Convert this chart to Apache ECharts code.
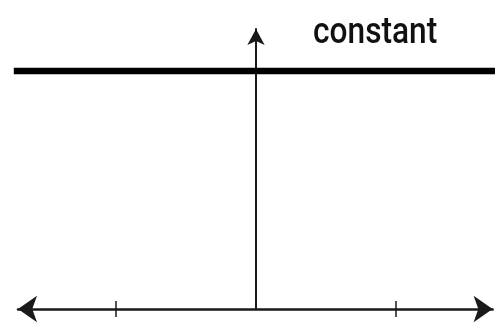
<!DOCTYPE html>
<html>
<head>
<meta charset="utf-8">
<script src="https://cdn.jsdelivr.net/npm/echarts@6/dist/echarts.min.js"></script>
<style>
  html, body { margin: 0; padding: 0; background: #fff; }
  #chart { width: 495px; height: 324px; }
</style>
</head>
<body>
<div id="chart"></div>
<script>
// A constant function y = c drawn over a number line
const lineLabel = 'constant';
const constX = [-1.73, 1.707];
const constY = [1.7, 1.7];
const tickValues = [-1, 1];
const xRange = [-1.7, 1.69];      // visible number line
const yRange = [0, 2.0];
const plotXRange = [-1.8286, 1.7071]; // full-width plot for the function

const axisColor = '#1a1a1a';

const chart = echarts.init(document.getElementById('chart'), null, { renderer: 'canvas' });

chart.setOption({
  animation: false,
  backgroundColor: '#ffffff',
  graphic: [
    {
      type: 'text',
      left: 313,
      top: 16,
      scaleX: 0.88,
      style: {
        text: lineLabel,
        font: '500 36px Roboto',
        fill: '#111'
      }
    }
  ],
  grid: [
    { left: 18, right: 2.4, top: 29, bottom: 15, containLabel: false },
    { left: 0, right: 0, top: 29, bottom: 15, containLabel: false }
  ],
  xAxis: [
    {
      type: 'value',
      gridIndex: 0,
      min: xRange[0],
      max: xRange[1],
      axisLine: {
        show: true,
        onZero: false,
        symbol: ['arrow', 'arrow'],
        symbolSize: [20, 19],
        lineStyle: { color: axisColor, width: 2.5 }
      },
      axisTick: {
        show: true,
        inside: false,
        length: 8,
        customValues: tickValues,
        lineStyle: { color: axisColor, width: 1.5 }
      },
      axisLabel: { show: false },
      splitLine: { show: false }
    },
    {
      type: 'value',
      gridIndex: 0,
      position: 'bottom',
      min: xRange[0],
      max: xRange[1],
      axisLine: { show: false, onZero: false },
      axisTick: {
        show: true,
        inside: true,
        length: 8,
        customValues: tickValues,
        lineStyle: { color: axisColor, width: 1.5 }
      },
      axisLabel: { show: false },
      splitLine: { show: false }
    },
    {
      type: 'value',
      gridIndex: 1,
      min: plotXRange[0],
      max: plotXRange[1],
      show: false
    }
  ],
  yAxis: [
    {
      type: 'value',
      gridIndex: 0,
      min: yRange[0],
      max: yRange[1],
      axisLine: {
        show: true,
        onZero: true,
        symbol: ['none', 'arrow'],
        symbolSize: [13, 16],
        lineStyle: { color: axisColor, width: 2 }
      },
      axisTick: { show: false },
      axisLabel: { show: false },
      splitLine: { show: false }
    },
    {
      type: 'value',
      gridIndex: 1,
      min: yRange[0],
      max: yRange[1],
      show: false
    }
  ],
  series: [
    {
      type: 'line',
      xAxisIndex: 2,
      yAxisIndex: 1,
      data: constX.map((x, i) => [x, constY[i]]),
      symbol: 'none',
      clip: false,
      z: 3,
      lineStyle: { color: '#000', width: 6.5, cap: 'butt' }
    }
  ]
});
</script>
</body>
</html>
